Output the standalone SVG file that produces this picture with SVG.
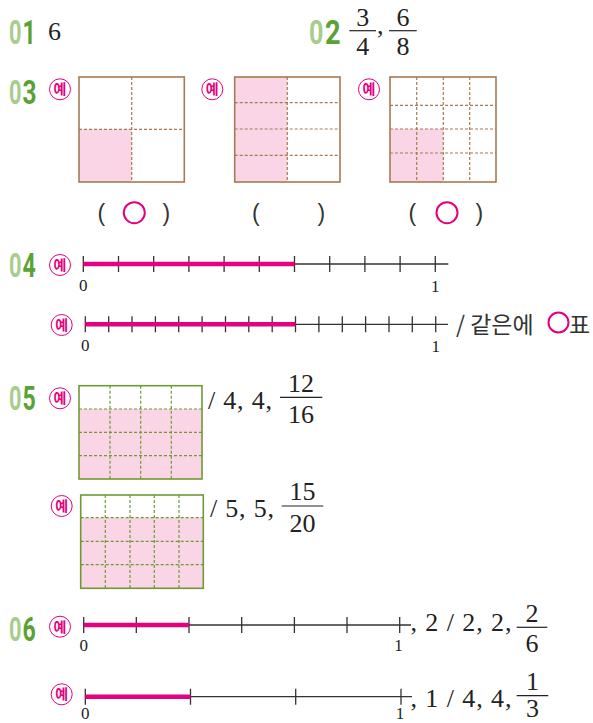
<svg xmlns="http://www.w3.org/2000/svg" width="593" height="723" viewBox="0 0 593 723">
<defs>
<style>
.num{font-family:Roboto,"DejaVu Sans",sans-serif;font-weight:bold;font-size:34px}
.l{fill:#a6cd8e}
.d{fill:#5aa234}
.ser{font-family:"Liberation Serif","DejaVu Serif",serif;fill:#222}
.f{font-size:26px}
.sm{font-size:17px}
.sans{font-family:"Liberation Sans","Noto Sans CJK KR",sans-serif;fill:#333}
.kr{font-family:"Noto Sans CJK KR","Noto Sans",sans-serif;fill:#333;font-size:23px}
.badge circle{fill:#fff;stroke:#e4007f;stroke-width:1}
.badge text{font-family:"Noto Sans CJK KR",sans-serif;font-weight:bold;font-size:14px;fill:#e4007f;text-anchor:middle}
.pinkfill{fill:#f9d5e5}
.bbox{fill:none;stroke:#a67a52;stroke-width:1.6}
.bdash{stroke:#a67a52;stroke-width:1.2;stroke-dasharray:3 2;fill:none}
.gbox{fill:none;stroke:#6f9a33;stroke-width:1.6}
.gdash{stroke:#6f9a33;stroke-width:1.2;stroke-dasharray:3 2;fill:none}
.axis{stroke:#333;stroke-width:1.3;fill:none}
.bar{stroke:#e4007f;stroke-width:4.5;fill:none}
.ring{fill:none;stroke:#e4007f;stroke-width:2}
.fl{stroke:#222;stroke-width:1.2}
.c{text-anchor:middle}
</style>
<symbol id="ye" overflow="visible"><g class="badge"><circle cx="0" cy="0" r="10.5"/><text x="0" y="5">예</text></g></symbol>
</defs>

<!-- 01 -->
<g id="q01">
<text class="num l" transform="translate(9,43.5) scale(0.64,1)">0</text>
<text class="num d" transform="translate(22.5,43.5) scale(0.68,1)">1</text>
<text class="ser" x="48" y="39.5" font-size="26">6</text>
</g>

<!-- 02 -->
<g id="q02">
<text class="num l" transform="translate(309,43.5) scale(0.74,1)">0</text>
<text class="num d" transform="translate(325,43.5) scale(0.8,1)">2</text>
<text class="ser f c" x="362.7" y="25.5">3</text>
<line class="fl" x1="349.3" y1="30.7" x2="376" y2="30.7"/>
<text class="ser f c" x="362.7" y="55">4</text>
<text class="ser f" x="377" y="34">,</text>
<text class="ser f c" x="403" y="25.5">6</text>
<line class="fl" x1="389" y1="30.7" x2="416.7" y2="30.7"/>
<text class="ser f c" x="403" y="55">8</text>
</g>

<!-- 03 -->
<g id="q03">
<text class="num l" transform="translate(9,104) scale(0.64,1)">0</text>
<text class="num d" transform="translate(22.5,104) scale(0.72,1)">3</text>
<use href="#ye" x="60" y="89.3"/>
<use href="#ye" x="212.3" y="89.3"/>
<use href="#ye" x="369" y="89.3"/>
<g id="q03-box1">
<rect class="pinkfill" x="79" y="129.3" width="52.7" height="52.7"/>
<line class="bdash" x1="131.7" y1="77" x2="131.7" y2="182"/>
<line class="bdash" x1="79" y1="129.3" x2="184.3" y2="129.3"/>
<rect class="bbox" x="79" y="77" width="105.3" height="105"/>
</g>
<g id="q03-box2">
<rect class="pinkfill" x="234.7" y="77" width="52.6" height="105"/>
<line class="bdash" x1="287.3" y1="77" x2="287.3" y2="182"/>
<line class="bdash" x1="234.7" y1="102.7" x2="340" y2="102.7"/>
<line class="bdash" x1="234.7" y1="129" x2="340" y2="129"/>
<line class="bdash" x1="234.7" y1="155.3" x2="340" y2="155.3"/>
<rect class="bbox" x="234.7" y="77" width="105.3" height="105"/>
</g>
<g id="q03-box3">
<rect class="pinkfill" x="390" y="129" width="53.3" height="53"/>
<line class="bdash" x1="416.7" y1="77" x2="416.7" y2="182"/>
<line class="bdash" x1="443.3" y1="77" x2="443.3" y2="182"/>
<line class="bdash" x1="469.7" y1="77" x2="469.7" y2="182"/>
<line class="bdash" x1="390" y1="105.3" x2="496" y2="105.3"/>
<line class="bdash" x1="390" y1="129" x2="496" y2="129"/>
<line class="bdash" x1="390" y1="153" x2="496" y2="153"/>
<rect class="bbox" x="390" y="77" width="106" height="105"/>
</g>
<g id="q03-answers">
<text class="sans" x="97.5" y="220.5" font-size="23">(</text>
<circle class="ring" cx="134.3" cy="212.7" r="10.5"/>
<text class="sans" x="162.5" y="220.5" font-size="23">)</text>
<text class="sans" x="252" y="220.5" font-size="23">(</text>
<text class="sans" x="317.5" y="220.5" font-size="23">)</text>
<text class="sans" x="408.5" y="220.5" font-size="23">(</text>
<circle class="ring" cx="447" cy="212.7" r="10.5"/>
<text class="sans" x="475.5" y="220.5" font-size="23">)</text>
</g>
</g>

<!-- 04 -->
<g id="q04">
<text class="num l" transform="translate(9,277) scale(0.64,1)">0</text>
<text class="num d" transform="translate(22.5,277) scale(0.68,1)">4</text>
<use href="#ye" x="60" y="265"/>
<use href="#ye" x="61.7" y="325"/>
<g id="q04-line1">
<line class="axis" x1="83.3" y1="264" x2="448.3" y2="264"/>
<path class="axis" d="M83.3 256v16M118.5 256v16M153.7 256v16M188.9 256v16M224.1 256v16M259.3 256v16M294.5 256v16M329.7 256v16M364.9 256v16M400.1 256v16M435.3 256v16"/>
<line class="bar" x1="83.3" y1="264" x2="294.5" y2="264"/>
<text class="ser sm c" x="83.3" y="290.5">0</text>
<text class="ser sm c" x="435.3" y="291.5">1</text>
</g>
<g id="q04-line2">
<line class="axis" x1="85.3" y1="324.3" x2="448" y2="324.3"/>
<path class="axis" d="M85.3 316.3v16M108.7 316.3v16M132 316.3v16M155.4 316.3v16M178.7 316.3v16M202.1 316.3v16M225.5 316.3v16M248.8 316.3v16M272.2 316.3v16M295.5 316.3v16M318.9 316.3v16M342.3 316.3v16M365.6 316.3v16M389 316.3v16M412.3 316.3v16M435.7 316.3v16"/>
<line class="bar" x1="85.3" y1="324.3" x2="295.5" y2="324.3"/>
<text class="ser sm c" x="85.3" y="351">0</text>
<text class="ser sm c" x="435.7" y="352">1</text>
<text class="kr" x="456" y="333">/ 같은에</text>
<circle class="ring" cx="558.5" cy="322.5" r="10"/>
<text class="kr" x="569" y="333">표</text>
</g>
</g>

<!-- 05 -->
<g id="q05">
<text class="num l" transform="translate(9,410) scale(0.64,1)">0</text>
<text class="num d" transform="translate(22.5,410) scale(0.68,1)">5</text>
<use href="#ye" x="60" y="398.3"/>
<use href="#ye" x="61.7" y="506"/>
<g id="q05-box1">
<rect class="pinkfill" x="79" y="409" width="123" height="70"/>
<path class="gdash" d="M110 385.7V479M140.7 385.7V479M171.3 385.7V479M79 409H202M79 432.3H202M79 455.7H202"/>
<rect class="gbox" x="79" y="385.7" width="123" height="93.3"/>
<text class="ser f" x="208" y="408.5" textLength="64" lengthAdjust="spacing">/ 4, 4,</text>
<text class="ser f c" x="301" y="391.7">12</text>
<line class="fl" x1="280" y1="397.3" x2="322.3" y2="397.3"/>
<text class="ser f c" x="301" y="422.7">16</text>
</g>
<g id="q05-box2">
<rect class="pinkfill" x="80.7" y="517.7" width="122.6" height="70.6"/>
<path class="gdash" d="M105.3 495V588.3M130 495V588.3M154.3 495V588.3M179 495V588.3M80.7 517.7H203.3M80.7 541.3H203.3M80.7 564.7H203.3"/>
<rect class="gbox" x="80.7" y="495" width="122.6" height="93.3"/>
<text class="ser f" x="210" y="517" textLength="64" lengthAdjust="spacing">/ 5, 5,</text>
<text class="ser f c" x="302.5" y="500">15</text>
<line class="fl" x1="281.7" y1="506" x2="323.3" y2="506"/>
<text class="ser f c" x="302.5" y="531.7">20</text>
</g>
</g>

<!-- 06 -->
<g id="q06">
<text class="num l" transform="translate(9,640.5) scale(0.64,1)">0</text>
<text class="num d" transform="translate(22.5,640.5) scale(0.68,1)">6</text>
<use href="#ye" x="60" y="626.7"/>
<use href="#ye" x="61.7" y="694.3"/>
<g id="q06-line1">
<line class="axis" x1="83.7" y1="625" x2="411" y2="625"/>
<path class="axis" d="M83.7 617v16M136.3 617v16M189 617v16M241.7 617v16M294.4 617v16M347 617v16M399.7 617v16"/>
<line class="bar" x1="83.7" y1="625" x2="189" y2="625"/>
<text class="ser sm c" x="83.7" y="650.5">0</text>
<text class="ser sm c" x="398.5" y="650.5">1</text>
<text class="ser f" x="410.5" y="631" textLength="101" lengthAdjust="spacing">, 2 / 2, 2,</text>
<text class="ser f c" x="532" y="621.7">2</text>
<line class="fl" x1="516.7" y1="627.3" x2="547.3" y2="627.3"/>
<text class="ser f c" x="532" y="651.7">6</text>
</g>
<g id="q06-line2">
<line class="axis" x1="85.3" y1="696.7" x2="412" y2="696.7"/>
<path class="axis" d="M85.3 688.7v16M190.5 688.7v16M295.7 688.7v16M401 688.7v16"/>
<line class="bar" x1="85.3" y1="696.7" x2="190.5" y2="696.7"/>
<text class="ser sm c" x="85.3" y="719">0</text>
<text class="ser sm c" x="400" y="719">1</text>
<text class="ser f" x="410.5" y="706.5" textLength="101" lengthAdjust="spacing">, 1 / 4, 4,</text>
<text class="ser f c" x="532.5" y="690">1</text>
<line class="fl" x1="516.7" y1="695.7" x2="548.3" y2="695.7"/>
<text class="ser f c" x="532.5" y="717">3</text>
</g>
</g>
</svg>
